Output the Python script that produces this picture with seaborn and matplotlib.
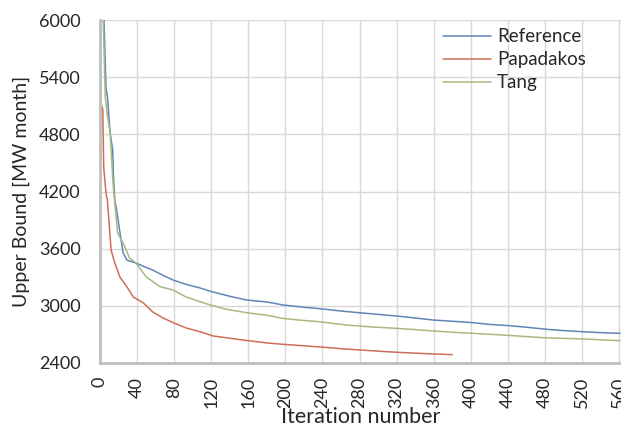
import matplotlib
matplotlib.use("Agg")
import matplotlib.pyplot as plt
import seaborn as sns
import pandas as pd

ref_iter = [0, 3, 4.3, 6.5, 8, 11, 13.7, 14.4, 16, 18, 21.6, 25, 28, 29, 39, 48, 57, 68, 79, 93, 108, 120, 140, 158, 180, 198, 220, 241, 260, 280, 300, 320, 340, 359, 380, 402, 420, 442, 460, 482, 500, 521, 540, 561]
ref_val = [7000, 6500, 6000, 5284, 5200, 4813, 4634, 4393, 4110, 4005, 3764, 3554, 3500, 3480, 3449, 3410, 3375, 3320, 3270, 3225, 3187, 3150, 3100, 3061, 3040, 3008, 2985, 2966, 2945, 2927, 2910, 2893, 2872, 2851, 2838, 2823, 2805, 2791, 2775, 2753, 2740, 2728, 2718, 2711]

pap_iter = [0, 1, 3, 4, 6.5, 8, 12, 16, 21.5, 29, 36, 47, 57, 68, 79, 93, 108, 122, 154, 180, 197, 220, 241, 260, 280, 300, 320, 340, 359, 380]
pap_val = [6500, 5127, 5063, 4456, 4183, 4110, 3585, 3449, 3302, 3200, 3092, 3029, 2935, 2872, 2823, 2767, 2728, 2683, 2641, 2610, 2596, 2580, 2565, 2550, 2536, 2524, 2512, 2503, 2494, 2487]

tang_iter = [0, 3.5, 5.7, 8, 11, 14, 15, 19, 25, 32, 39, 50, 65, 79, 93, 108, 122, 137, 158, 183, 197, 215, 237, 266, 290, 320, 340, 359, 380, 402, 440, 478, 500, 521, 540, 561]
tang_val = [7000, 6000, 5190, 5000, 4813, 4300, 4183, 3764, 3659, 3500, 3449, 3302, 3200, 3166, 3092, 3043, 3000, 2962, 2928, 2896, 2868, 2850, 2833, 2798, 2780, 2763, 2750, 2736, 2722, 2711, 2690, 2665, 2658, 2652, 2643, 2634]

series_names = ["Reference", "Papadakos", "Tang"]
colors = ["#6384b8", "#cc6f55", "#a8b97e"]
x_ticks = list(range(0, 561, 40))
y_ticks = [2400, 3000, 3600, 4200, 4800, 5400, 6000]

df = pd.concat([
    pd.DataFrame({"iter": ref_iter, "val": ref_val, "series": "Reference"}),
    pd.DataFrame({"iter": pap_iter, "val": pap_val, "series": "Papadakos"}),
    pd.DataFrame({"iter": tang_iter, "val": tang_val, "series": "Tang"}),
])

sns.set_theme(style="whitegrid")
plt.rcParams["font.family"] = ["Lato", "DejaVu Sans"]

fig = plt.figure(figsize=(6.21, 4.29), dpi=100)
ax = fig.add_axes([0.161, 0.154, 0.839, 0.799])
sns.lineplot(data=df, x="iter", y="val", hue="series", hue_order=series_names,
             palette=colors, linewidth=1.1, ax=ax, sort=False, estimator=None)

ax.set_xlim(0, 562)
ax.set_ylim(2400, 6000)
ax.set_xticks(x_ticks)
ax.set_yticks(y_ticks)
ax.tick_params(axis="x", labelrotation=90, length=0, pad=10, labelsize=13, colors="#262626")
ax.tick_params(axis="y", length=0, pad=14, labelsize=13, colors="#262626")
ax.grid(True, color="#d9d9d9", linewidth=1)
for s in ["top", "right"]:
    ax.spines[s].set_visible(False)
for s in ["left", "bottom"]:
    ax.spines[s].set_color("#bfbfbf")
    ax.spines[s].set_linewidth(2)
ax.set_xlabel("Iteration number", fontsize=15.5, color="#262626", labelpad=-1)
ax.set_ylabel("Upper Bound [MW month]", fontsize=14, color="#262626", labelpad=6)

leg = ax.legend(loc="upper right", bbox_to_anchor=(0.965, 1.025), frameon=False, fontsize=13.5,
                handlelength=2.6, handletextpad=0.3, labelspacing=0.32)

fig.savefig("out.png", dpi=100)
